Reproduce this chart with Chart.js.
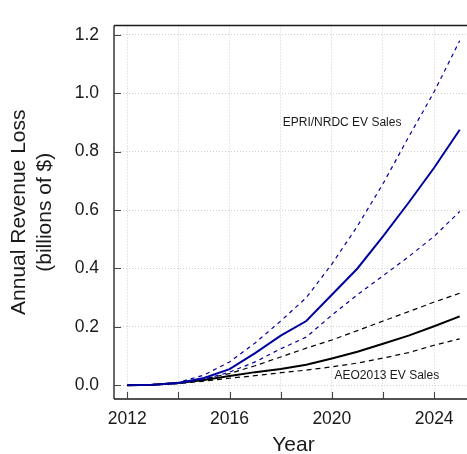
<!DOCTYPE html>
<html>
<head>
<meta charset="utf-8">
<script src="https://cdn.jsdelivr.net/npm/chart.js@4/dist/chart.umd.min.js"></script>
<style>
  html, body { margin: 0; padding: 0; background: #fff; overflow: hidden; }
  #wrap { width: 467px; height: 454px; overflow: hidden; }
  canvas { display: block; }
</style>
</head>
<body>
<div id="wrap"><canvas id="c" width="480" height="454"></canvas></div>
<script>
// Annual revenue loss (billions of $) by year under two EV sales scenarios
const years = [2012, 2013, 2014, 2015, 2016, 2017, 2018, 2019, 2020, 2021, 2022, 2023, 2024, 2025];

const epriHigh = [0, 0.003, 0.010, 0.035, 0.080, 0.145, 0.220, 0.300, 0.415, 0.545, 0.690, 0.850, 1.005, 1.180];
const epriMid  = [0, 0.002, 0.008, 0.025, 0.055, 0.110, 0.170, 0.220, 0.310, 0.400, 0.510, 0.625, 0.745, 0.875];
const epriLow  = [0, 0.001, 0.006, 0.020, 0.045, 0.080, 0.125, 0.165, 0.240, 0.310, 0.375, 0.440, 0.510, 0.595];

const aeoHigh = [0, 0.002, 0.010, 0.022, 0.040, 0.067, 0.097, 0.127, 0.155, 0.187, 0.220, 0.252, 0.285, 0.315];
const aeoMid  = [0, 0.002, 0.008, 0.018, 0.032, 0.045, 0.056, 0.070, 0.092, 0.115, 0.142, 0.170, 0.202, 0.236];
const aeoLow  = [0, 0.001, 0.006, 0.014, 0.024, 0.033, 0.043, 0.052, 0.063, 0.076, 0.093, 0.112, 0.137, 0.159];

const xTicks = [2012, 2014, 2016, 2018, 2020, 2022, 2024];
const xLabelled = [2012, 2016, 2020, 2024];
const yTicks = [0, 0.2, 0.4, 0.6, 0.8, 1.0, 1.2];

// Scenario labels placed in data coordinates
const notes = [
  { text: 'EPRI/NRDC EV Sales', x: 2020.4, y: 0.90 },
  { text: 'AEO2013 EV Sales',   x: 2022.15, y: 0.032 }
];

const FONT = "'Liberation Sans', Arial, Helvetica, sans-serif";
const BLUE = '#0000A0';
const INK = '#1a1a1a';

const pts = vals => years.map((yr, i) => ({ x: yr, y: vals[i] }));
const series = (vals, color, width, dash) => ({
  data: pts(vals), borderColor: color, borderWidth: width, borderDash: dash,
  pointRadius: 0, tension: 0, fill: false
});

// Frame (top, left, bottom), inward tick marks and scenario labels
const framePlugin = {
  id: 'frame',
  afterDatasetsDraw(chart) {
    const { ctx, chartArea: a, scales: { x, y } } = chart;
    ctx.save();
    ctx.strokeStyle = INK;
    ctx.lineWidth = 1.3;
    ctx.beginPath();
    ctx.moveTo(a.left, a.top); ctx.lineTo(chart.width, a.top);
    ctx.moveTo(a.left, a.top); ctx.lineTo(a.left, a.bottom);
    ctx.moveTo(a.left, a.bottom); ctx.lineTo(chart.width, a.bottom);
    ctx.stroke();
    ctx.lineWidth = 1.1;
    ctx.strokeStyle = '#444';
    ctx.beginPath();
    x.ticks.forEach(t => {
      const px = Math.round(x.getPixelForValue(t.value)) + 0.5;
      ctx.moveTo(px, a.bottom); ctx.lineTo(px, a.bottom - 7);
    });
    y.ticks.forEach(t => {
      const py = Math.round(y.getPixelForValue(t.value)) + 0.5;
      ctx.moveTo(a.left, py); ctx.lineTo(a.left + 7, py);
    });
    ctx.stroke();
    ctx.fillStyle = INK;
    ctx.font = '12px ' + FONT;
    ctx.textAlign = 'center';
    ctx.textBaseline = 'middle';
    notes.forEach(n => ctx.fillText(n.text, x.getPixelForValue(n.x), y.getPixelForValue(n.y)));
    ctx.restore();
  }
};

new Chart(document.getElementById('c'), {
  type: 'line',
  data: {
    datasets: [
      series(epriHigh, BLUE, 1.2, [4, 4]),
      series(epriMid, BLUE, 2, []),
      series(epriLow, BLUE, 1.2, [4, 4]),
      series(aeoHigh, '#000', 1.2, [5, 4]),
      series(aeoMid, '#000', 2, []),
      series(aeoLow, '#000', 1.2, [5, 4])
    ]
  },
  options: {
    responsive: false,
    animation: false,
    events: [],
    layout: { padding: { top: 12, right: 7, bottom: 0, left: 0 } },
    plugins: { legend: { display: false }, tooltip: { enabled: false } },
    scales: {
      x: {
        type: 'linear',
        min: 2011.48,
        max: 2025.52,
        afterBuildTicks: s => { s.ticks = xTicks.map(v => ({ value: v })); },
        afterFit: s => { s.height = 55; },
        grid: { color: '#cfcfcf', lineWidth: 1, drawTicks: false },
        border: { display: false, dash: [1, 2] },
        ticks: {
          padding: 10,
          color: INK,
          maxRotation: 0,
          autoSkip: false,
          font: { family: FONT, size: 17.5 },
          callback: v => xLabelled.includes(v) ? String(v) : ''
        },
        title: {
          display: true, text: 'Year', color: INK,
          font: { family: FONT, size: 21, lineHeight: 1 },
          padding: { top: 0, bottom: -2 }
        }
      },
      y: {
        type: 'linear',
        min: -0.047,
        max: 1.232,
        afterBuildTicks: s => { s.ticks = yTicks.map(v => ({ value: v })); },
        afterFit: s => { s.width = 114; },
        grid: { color: '#cfcfcf', lineWidth: 1, drawTicks: false },
        border: { display: false, dash: [1, 2] },
        ticks: {
          padding: 15,
          color: INK,
          autoSkip: false,
          font: { family: FONT, size: 17.5 },
          callback: v => v.toFixed(1)
        },
        title: {
          display: true, text: ['Annual Revenue Loss', '(billions of $)'], color: INK,
          font: { family: FONT, size: 21, lineHeight: 1.2 },
          padding: { top: 7, bottom: 0 }
        }
      }
    }
  },
  plugins: [framePlugin]
});
</script>
</body>
</html>
